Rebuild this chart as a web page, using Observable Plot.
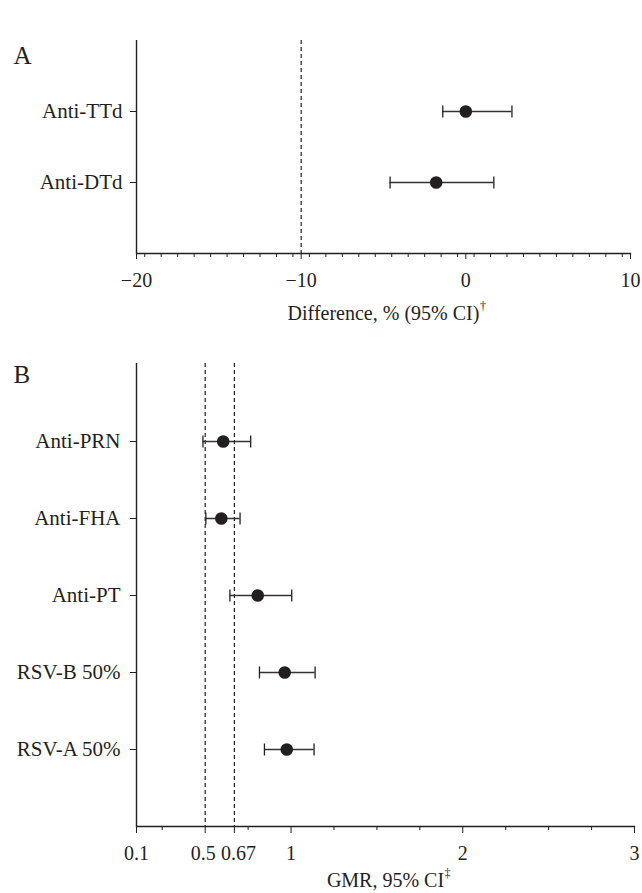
<!DOCTYPE html>
<html><head><meta charset="utf-8">
<script src="https://cdn.jsdelivr.net/npm/d3@7"></script>
<script src="https://cdn.jsdelivr.net/npm/@observablehq/plot@0.6"></script>
<style>
body{margin:0;background:#fff;}
#wrap{position:relative;width:642px;height:893px;overflow:hidden;}
#rule{position:absolute;left:7px;right:0;top:12px;height:2px;background:#3c3c3c;}
#a{position:absolute;left:0;top:0;}
#b{position:absolute;left:0;top:340px;}
</style></head><body>
<div id="wrap"><div id="rule"></div><div id="a"></div><div id="b"></div></div>
<script>
const ink = "#231f20";
const font = "'Liberation Serif', 'Times New Roman', serif";

// Panel A: difference, % (95% CI)
const categoriesA = ["Anti-TTd", "Anti-DTd"];
const estimateA = [0.0, -1.8];
const lowerA = [-1.4, -4.6];
const upperA = [2.8, 1.7];
const ticksA = [-20, -10, 0, 10];
const refA = [-10];
const domainA = [-20, 10];

// Panel B: GMR, 95% CI
const categoriesB = ["Anti-PRN", "Anti-FHA", "Anti-PT", "RSV-B 50%", "RSV-A 50%"];
const estimateB = [0.605, 0.594, 0.806, 0.963, 0.975];
const lowerB = [0.487, 0.504, 0.644, 0.816, 0.845];
const upperB = [0.765, 0.703, 1.004, 1.14, 1.134];
const ticksB = [0.1, 0.5, 0.67, 1, 2, 3];
const minorTicksB = [0.25, 0.75, 1.25, 1.5, 1.75, 2.25, 2.5, 2.75];
const refB = [0.5, 0.67];
const domainB = [0.1, 3];

const minorTicksA = d3.range(domainA[0] + 0.5, domainA[1], 1);

const dataA = categoriesA.map((c, i) => ({name: c, est: estimateA[i], lo: lowerA[i], hi: upperA[i]}));
const dataB = categoriesB.map((c, i) => ({name: c, est: estimateB[i], lo: lowerB[i], hi: upperB[i]}));

const minus = d => d < 0 ? "\u2212" + Math.abs(d) : String(d);

// vertical cap symbol for error bars
const capSymbol = {
  draw(context, size) {
    const r = Math.sqrt(size / Math.PI);
    context.moveTo(0, -r);
    context.lineTo(0, r);
  }
};

const ctx = document.createElement("canvas").getContext("2d");
function textWidth(s, px) {
  ctx.font = `${px}px 'Liberation Serif'`;
  return ctx.measureText(s).width;
}

function forest({data, categories, domain, ticks, minor, refs, fmt, nudge, height, mt, mb, mr, tickPad, yPad, title, mark, titleDy, letter, letterDy, majorSize}) {
  const tw = textWidth(title, 20);
  const nudgeMarks = Object.entries(nudge).map(([v, dx]) =>
    Plot.axisX([+v], {tickSize: 0, tickPadding: majorSize + tickPad, dx, tickFormat: fmt, fontSize: 20, fill: ink, label: null}));
  return Plot.plot({
    width: 642, height,
    marginTop: mt, marginBottom: mb, marginLeft: 136, marginRight: mr,
    style: {fontFamily: font, fontSize: "20px", color: ink, background: "white", overflow: "visible"},
    x: {domain, label: null},
    y: {type: "point", domain: categories, padding: 1, label: null},
    marks: [
      Plot.ruleX(refs, {stroke: ink, strokeWidth: 1.2, strokeDasharray: "4,3"}),
      Plot.ruleX([domain[0]], {stroke: ink, strokeWidth: 1.4}),
      Plot.frame({anchor: "bottom", stroke: ink, strokeWidth: 1.4}),
      Plot.axisX(minor, {tickSize: 4, tickFormat: () => "", stroke: ink, label: null}),
      Plot.axisX(ticks, {tickSize: majorSize, tickPadding: tickPad, tickFormat: d => (String(d) in nudge) ? "" : fmt(d), fontSize: 20, stroke: ink, fill: ink, label: null}),
      ...nudgeMarks,
      Plot.axisY({tickSize: 6, tickPadding: yPad, fontSize: 21, stroke: ink, fill: ink, label: null}),
      Plot.ruleY(data, {y: "name", x1: "lo", x2: "hi", stroke: "#333", strokeWidth: 1.5}),
      Plot.dot(data, {x: "lo", y: "name", r: 6, symbol: capSymbol, fill: "none", stroke: ink, strokeWidth: 1.3}),
      Plot.dot(data, {x: "hi", y: "name", r: 6, symbol: capSymbol, fill: "none", stroke: ink, strokeWidth: 1.3}),
      Plot.dot(data, {x: "est", y: "name", r: 6.3, fill: ink, stroke: null}),
      Plot.text([title], {frameAnchor: "bottom", lineAnchor: "middle", dy: titleDy, fontSize: 20, fill: ink}),
      Plot.text([mark], {frameAnchor: "bottom", lineAnchor: "middle", textAnchor: "start", dx: tw / 2 + 0.5, dy: titleDy - 7, fontSize: 12, fill: ink}),
      Plot.text([letter], {frameAnchor: "top-left", lineAnchor: "middle", dx: -123, dy: letterDy, textAnchor: "start", fontSize: 25, fill: ink})
    ]
  });
}

document.getElementById("a").append(forest({
  data: dataA, categories: categoriesA, domain: domainA, ticks: ticksA, minor: minorTicksA, refs: refA,
  fmt: minus, nudge: {}, height: 340, mt: 40, mb: 87, mr: 12, tickPad: 13.5, yPad: 8,
  title: "Difference, % (95% CI)", mark: "\u2020", titleDy: 60, letter: "A", letterDy: 15, majorSize: 6
}));

document.getElementById("b").append(forest({
  data: dataB, categories: categoriesB, domain: domainB, ticks: ticksB, minor: minorTicksB, refs: refB,
  fmt: d => String(d), nudge: {"0.5": -2, "0.67": 4}, height: 553, mt: 23, mb: 67, mr: 8, tickPad: 12, yPad: 10,
  title: "GMR, 95% CI", mark: "\u2021", titleDy: 54, letter: "B", letterDy: 11, majorSize: 7
}));
</script>
</body></html>
